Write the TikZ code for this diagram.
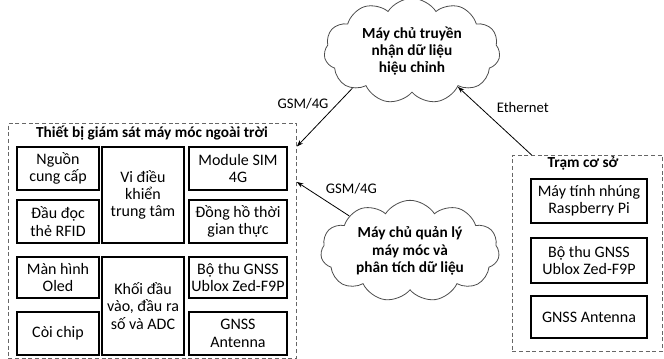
\documentclass[tikz,border=0pt]{standalone}
\usepackage{fontspec}
\setmainfont{Carlito}
\usetikzlibrary{arrows.meta,calc,shapes.symbols}

\tikzset{
	part/.style={draw, line width=1.1pt, align=center, inner sep=0pt, font=\fontsize{12}{13}\selectfont},
	group/.style={draw=black!60, dash pattern=on 3pt off 2pt, line width=0.6pt, anchor=north west, inner sep=0pt},
	grouptitle/.style={font=\fontsize{11.5}{13}\selectfont\bfseries},
	server/.style={cloud, cloud puffs=11, cloud puff arc=115, cloud ignores aspect, draw=black!70, line width=0.6pt,
		align=center, inner sep=0pt, font=\fontsize{11.5}{13}\selectfont\bfseries},
	link/.style={-{Stealth[length=5pt,width=3.5pt]}, line width=0.6pt},
	linklabel/.style={font=\fontsize{11}{13}\selectfont},
}

\begin{document}
\begin{tikzpicture}[x=0.75pt, y=-0.75pt]
			%%%%% START %%%%%
			\useasboundingbox (0, 0) rectangle (664, 359);
			
			% outdoor device
			\node[group, minimum width=216pt, minimum height=176.25pt] (devbox) at (8, 123) {};
			\node[grouptitle] (devtitle) at (152, 133) {Thiết bị giám sát máy móc ngoài trời};
			
			\node[part, minimum width=61.5pt, minimum height=32.25pt] (nguon) at (58, 168.5) {Nguồn\\cung cấp};
			\node[part, minimum width=61.5pt, minimum height=32.25pt] (docthe) at (58, 221.5) {Đầu đọc\\thẻ RFID};
			\node[part, minimum width=61.5pt, minimum height=72pt] (vdk) at (143, 195) {Vi điều\\khiển\\trung tâm};
			\node[part, minimum width=73.5pt, minimum height=32.25pt] (sim) at (238, 168.5) {Module SIM\\4G};
			\node[part, minimum width=73.5pt, minimum height=32.25pt] (dongho) at (238, 221.5) {Đồng hồ thời\\gian thực};
			
			\node[part, minimum width=61.5pt, minimum height=30.75pt] (manhinh) at (58, 277.5) {Màn hình\\Oled};
			\node[part, minimum width=61.5pt, minimum height=32.25pt] (coi) at (58, 333.5) {Còi chip};
			\node[part, minimum width=61.5pt, minimum height=73.5pt] (khoi) at (143, 306) {Khối đầu\\vào, đầu ra\\số và ADC};
			\node[part, minimum width=73.5pt, minimum height=30.75pt] (gnssrx) at (238, 277.5) {Bộ thu GNSS\\Ublox Zed-F9P};
			\node[part, minimum width=73.5pt, minimum height=32.25pt] (antenna) at (238, 333.5) {GNSS\\Antenna};
			
			% base station
			\node[group, minimum width=112.5pt, minimum height=147pt] (base) at (512, 155) {};
			\node[grouptitle] (basetitle) at (583, 163) {Trạm cơ sở};
			
			\node[part, minimum width=87pt, minimum height=33pt] (pi) at (589, 201) {Máy tính nhúng\\Raspberry Pi};
			\node[part, minimum width=87pt, minimum height=33.75pt] (baserx) at (589, 260.5) {Bộ thu GNSS\\Ublox Zed-F9P};
			\node[part, minimum width=87pt, minimum height=31.5pt] (baseant) at (589, 317) {GNSS Antenna};
			
			% servers
			\node[server, minimum width=132pt, minimum height=79pt] (rtk) at (412, 51) {Máy chủ truyền\\nhận dữ liệu\\hiệu chỉnh};
			\node[server, minimum width=134pt, minimum height=76pt] (mgmt) at (410, 251) {Máy chủ quản lý\\máy móc và\\phân tích dữ liệu};
			
			% links
			\draw[link] (rtk.212) -- node[linklabel, pos=0.27, left=3pt] (gsmtop) {GSM/4G}
				($(devbox.north east)!0.1!(devbox.south east)$);
			\draw[link, {Stealth[length=5pt,width=3.5pt]}-] ($(devbox.north east)!0.25!(devbox.south east)$)
				-- node[linklabel, pos=0.21, right=10pt] (gsmbot) {GSM/4G} (mgmt.150);
			\draw[link] ($(base.north west)!0.13!(base.north east)$) -- node[linklabel, pos=0.7, right=9pt] (eth) {Ethernet} (rtk.-38);
			
			%%%%% END %%%%%
\end{tikzpicture}
\end{document}
